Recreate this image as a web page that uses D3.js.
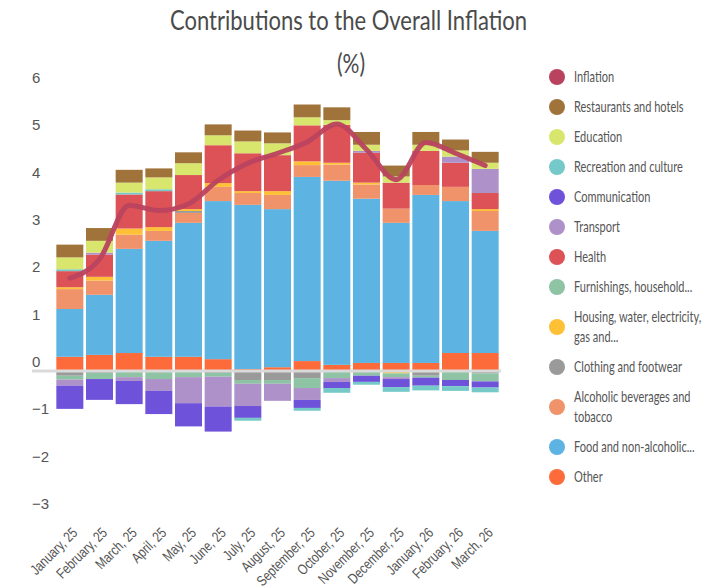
<!DOCTYPE html>
<html>
<head>
<meta charset="utf-8">
<script src="https://cdn.jsdelivr.net/npm/d3@7"></script>
<style>
  body { margin: 0; background: #fff; }
  svg { font-family: Lato, "Open Sans", sans-serif; }
</style>
</head>
<body>
<div id="chart"></div>
<script>
const months = ["January, 25", "February, 25", "March, 25", "April, 25", "May, 25", "June, 25", "July, 25",
  "August, 25", "September, 25", "October, 25", "November, 25", "December, 25", "January, 26", "February, 26", "March, 26"]

const other = [0.30, 0.34, 0.38, 0.30, 0.30, 0.25, 0.04, 0.08, 0.21, 0.13, 0.17, 0.17, 0.17, 0.38, 0.38]
const food = [1.01, 1.27, 2.20, 2.45, 2.83, 3.34, 3.47, 3.34, 3.89, 3.89, 3.47, 2.96, 3.55, 3.21, 2.58]
const alcohol = [0.42, 0.30, 0.30, 0.21, 0.21, 0.30, 0.25, 0.30, 0.25, 0.34, 0.30, 0.30, 0.21, 0.30, 0.42]
const clothing = [-0.10, -0.04, 0, 0, 0.04, -0.04, -0.19, -0.19, -0.15, 0, 0, 0, -0.10, 0, -0.05]
const housing = [0.04, 0.08, 0.13, 0.08, 0.04, 0.08, 0.04, 0.08, 0.08, 0.04, 0.04, -0.05, 0, 0, 0.04]
const furnishings = [-0.08, -0.13, -0.13, -0.17, -0.13, -0.08, -0.08, -0.08, -0.21, -0.15, -0.10, -0.08, -0.04, -0.19, -0.17]
const health = [0.34, 0.47, 0.72, 0.76, 0.72, 0.80, 0.80, 0.76, 0.76, 0.80, 0.63, 0.55, 0.72, 0.51, 0.34]
const transport = [-0.13, 0.04, -0.08, -0.25, -0.55, -0.63, -0.47, -0.36, -0.25, -0.08, 0.04, -0.04, 0, 0.13, 0.51]
const communication = [-0.49, -0.44, -0.49, -0.49, -0.49, -0.53, -0.25, 0, -0.17, -0.13, -0.13, -0.17, -0.17, -0.13, -0.13]
const recreation = [0.04, 0, 0.04, 0.04, 0, 0, -0.06, 0, -0.06, -0.10, -0.06, -0.10, -0.10, -0.10, -0.10]
const education = [0.25, 0.25, 0.21, 0.25, 0.25, 0.21, 0.25, 0.25, 0.17, 0.10, 0.13, 0.13, 0.13, 0.13, 0.13]
const restaurants = [0.27, 0.27, 0.27, 0.19, 0.23, 0.23, 0.23, 0.23, 0.27, 0.27, 0.27, 0.23, 0.27, 0.23, 0.23]
const inflation = [1.96, 2.36, 3.50, 3.39, 3.53, 4.03, 4.39, 4.60, 4.84, 5.22, 4.68, 4.04, 4.83, 4.60, 4.34]

const yTicks = [-3, -2, -1, 0, 1, 2, 3, 4, 5, 6]

// stacking order, bottom to top
const seriesKeys = ["Other", "Food and non-alcoholic...", "Alcoholic beverages and tobacco", "Clothing and footwear",
  "Housing, water, electricity, gas and...", "Furnishings, household...", "Health", "Transport",
  "Communication", "Recreation and culture", "Education", "Restaurants and hotels"]
const seriesValues = [other, food, alcohol, clothing, housing, furnishings, health, transport,
  communication, recreation, education, restaurants]
const seriesColors = ["#fd6b3a", "#5db4e3", "#f0936a", "#9a9a9a", "#fec036", "#8ec3a4", "#dc5256", "#ad91c8",
  "#6e52d9", "#75c9c8", "#d9e66e", "#a0733a"]
const inflationColor = "#b9435f"

const width = 702
const height = 588
// no narrow font installed, so squeeze the text sideways
const squeeze = 0.78

const drawChart = () => {
  const svg = d3.select("#chart")
    .append("svg")
      .attr("width", width)
      .attr("height", height)

  const table = months.map((m, i) => {
    const row = { month: m }
    seriesKeys.forEach((k, j) => row[k] = seriesValues[j][i])
    return row
  })

  const stacked = d3.stack()
    .keys(seriesKeys)
    .offset(d3.stackOffsetDiverging)(table)

  const xScale = d3.scaleBand()
    .domain(months)
    .range([55, 500])
    .paddingInner(0.09)
    .paddingOuter(0.045)

  const yScale = d3.scaleLinear()
    .domain([-3, 6])
    .range([513, 87])

  // title
  svg.append("text")
    .text("Contributions to the Overall Inflation")
      .attr("x", 170)
      .attr("y", 30)
      .attr("textLength", 357)
      .attr("lengthAdjust", "spacingAndGlyphs")
      .attr("font-size", 27)
      .attr("fill", "#4a4a4a")
  svg.append("text")
    .text("(%)")
      .attr("transform", `translate(351, 73) scale(${squeeze}, 1)`)
      .attr("text-anchor", "middle")
      .attr("font-size", 27)
      .attr("fill", "#4a4a4a")

  // y axis, labels sit above their value
  const yAxis = d3.axisRight(yScale)
    .tickValues(yTicks)
    .tickSize(0)
    .tickFormat(d3.format("d"))
  const yG = svg.append("g")
      .attr("class", "axis-y")
      .attr("transform", "translate(32, 0)")
      .call(yAxis)
  yG.select(".domain").remove()
  yG.selectAll("text")
      .attr("x", 0)
      .attr("dy", "-0.3em")
      .attr("font-size", 15)
      .attr("font-family", "inherit")
      .attr("fill", "#555")

  // bars
  svg.append("g")
    .selectAll("g")
    .data(stacked)
    .join("g")
      .attr("fill", (d, i) => seriesColors[i])
    .selectAll("rect")
    .data(d => d)
    .join("rect")
      .attr("x", d => xScale(d.data.month))
      .attr("width", xScale.bandwidth())
      .attr("y", d => yScale(Math.max(d[0], d[1])))
      .attr("height", d => Math.abs(yScale(d[0]) - yScale(d[1])))

  // zero line
  svg.append("line")
      .attr("x1", 32)
      .attr("x2", 501)
      .attr("y1", yScale(0))
      .attr("y2", yScale(0))
      .attr("stroke", "#dadada")
      .attr("stroke-width", 3)

  // inflation line
  const lineGenerator = d3.line()
    .x((d, i) => xScale(months[i]) + xScale.bandwidth() / 2)
    .y(d => yScale(d))
    .curve(d3.curveMonotoneX)
  svg.append("path")
      .attr("d", lineGenerator(inflation))
      .attr("fill", "none")
      .attr("stroke", inflationColor)
      .attr("stroke-width", 5)
      .attr("stroke-linecap", "round")
      .attr("stroke-linejoin", "round")
      .attr("opacity", 0.95)

  // x axis, rotated labels
  const xAxis = d3.axisBottom(xScale).tickSize(0)
  const xG = svg.append("g")
      .attr("class", "axis-x")
      .call(xAxis)
  xG.select(".domain").remove()
  xG.selectAll("text")
      .attr("x", 0)
      .attr("y", 0)
      .attr("dy", "0.35em")
      .attr("transform", "translate(5, 530) rotate(-45) scale(0.8, 1)")
      .attr("text-anchor", "end")
      .attr("font-size", 14.5)
      .attr("font-family", "inherit")
      .attr("fill", "#555")

  drawLegend(svg)
}

const drawLegend = (svg) => {
  const items = [{ label: ["Inflation"], color: inflationColor }]
  for (let i = seriesKeys.length - 1; i >= 0; i--) {
    let label = [seriesKeys[i]]
    if (seriesKeys[i].startsWith("Housing")) label = ["Housing, water, electricity,", "gas and..."]
    if (seriesKeys[i].startsWith("Alcoholic")) label = ["Alcoholic beverages and", "tobacco"]
    items.push({ label: label, color: seriesColors[i] })
  }

  let y = 77
  const legend = svg.append("g").attr("class", "legend")
  items.forEach((item, i) => {
    const two = item.label.length > 1
    if (i > 0) y += 30
    if (two) y += 10
    const g = legend.append("g")
        .attr("transform", `translate(0, ${y})`)
    g.append("circle")
        .attr("cx", 557)
        .attr("cy", 0)
        .attr("r", 8)
        .attr("fill", item.color)
    item.label.forEach((t, k) => {
      g.append("text")
        .text(t)
          .attr("transform", `translate(574, ${two ? (k === 0 ? -10 : 10) : 0}) scale(0.76, 1)`)
          .attr("dy", "0.35em")
          .attr("font-size", 14.5)
          .attr("fill", "#555")
    })
    if (two) y += 10
  })
}

drawChart()
</script>
</body>
</html>
